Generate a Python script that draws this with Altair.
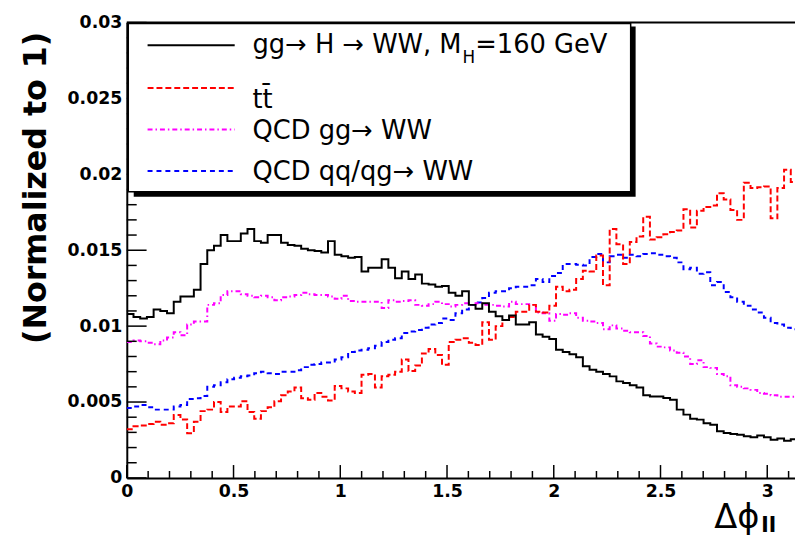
import altair as alt
import pandas as pd

# ---------------- data (normalized histograms, 100 bins over [0, pi]) ----------------
N_BINS = 100
BIN_WIDTH = 3.14159265 / N_BINS
X_MAX = 3.13
Y_MAX = 0.03
W, H = 675, 460

higgs = [0.0108, 0.0106, 0.0105, 0.0106, 0.0111, 0.0110, 0.01085, 0.0116, 0.01195, 0.01195,
         0.0124, 0.0141, 0.0150, 0.0153, 0.0160, 0.0156, 0.0156, 0.0161, 0.0164, 0.0156,
         0.0155, 0.0160, 0.0160, 0.0155, 0.01535, 0.0153, 0.0151, 0.0150, 0.01495, 0.01485,
         0.0156, 0.0147, 0.0146, 0.0145, 0.01455, 0.0136, 0.01385, 0.01385, 0.0144, 0.01385,
         0.01315, 0.0136, 0.0131, 0.0134, 0.0128, 0.01275, 0.0126, 0.01265, 0.0122, 0.0120,
         0.0123, 0.0114, 0.01115, 0.0115, 0.01095, 0.01065, 0.0104, 0.0107, 0.0101, 0.0101,
         0.01025, 0.00945, 0.0093, 0.00915, 0.00845, 0.0083, 0.00815, 0.00795, 0.00735, 0.00713,
         0.0070, 0.00684, 0.00669, 0.00636, 0.00625, 0.0061, 0.00596, 0.00544, 0.00537, 0.00537,
         0.00526, 0.00515, 0.0045, 0.00417, 0.0039, 0.00384, 0.0036, 0.0035, 0.00307, 0.00296,
         0.0029, 0.00285, 0.00274, 0.00268, 0.0028, 0.00268, 0.00252, 0.00259, 0.00245, 0.00255]

ttbar = [0.0032, 0.0034, 0.00345, 0.00355, 0.0037, 0.0035, 0.0036, 0.00415, 0.00385, 0.00295,
         0.0037, 0.0044, 0.0045, 0.0050, 0.00435, 0.0047, 0.0047, 0.00505, 0.00435, 0.0039,
         0.0044, 0.00465, 0.00505, 0.00545, 0.0057, 0.00595, 0.00525, 0.00515, 0.0056, 0.00535,
         0.0051, 0.00605, 0.0059, 0.0057, 0.0056, 0.0068, 0.00685, 0.00595, 0.0067, 0.0068,
         0.0070, 0.0078, 0.00705, 0.0074, 0.0082, 0.0085, 0.0081, 0.00745, 0.00895, 0.0091,
         0.0092, 0.0089, 0.00875, 0.01025, 0.0091, 0.0100, 0.0104, 0.0106, 0.01095, 0.01095,
         0.0114, 0.01095, 0.0109, 0.01135, 0.0126, 0.0123, 0.0124, 0.0131, 0.01365, 0.0136,
         0.01465, 0.0127, 0.0164, 0.0154, 0.0141, 0.01555, 0.0159, 0.0172, 0.0157, 0.01585,
         0.01605, 0.0162, 0.0163, 0.0177, 0.0165, 0.0176, 0.01785, 0.01795, 0.01875, 0.01835,
         0.01765, 0.0170, 0.01945, 0.0191, 0.01915, 0.0192, 0.0171, 0.0191, 0.0203, 0.0195]

qcd_gg = [0.00895, 0.00905, 0.0090, 0.0089, 0.0088, 0.00905, 0.00925, 0.0096, 0.0094, 0.0101,
          0.0103, 0.0103, 0.0114, 0.0115, 0.01205, 0.0123, 0.0123, 0.0121, 0.0120, 0.0119,
          0.0120, 0.0119, 0.0117, 0.0119, 0.01195, 0.01205, 0.0122, 0.0121, 0.01205, 0.01205,
          0.01195, 0.0118, 0.0120, 0.01165, 0.0116, 0.0116, 0.0116, 0.0116, 0.0112, 0.0117,
          0.0116, 0.01165, 0.0117, 0.0114, 0.01135, 0.01145, 0.0116, 0.01145, 0.0113, 0.0114,
          0.0115, 0.0114, 0.0115, 0.0114, 0.0114, 0.01135, 0.0113, 0.0116, 0.01145, 0.01145,
          0.0114, 0.0109, 0.01085, 0.01035, 0.0108, 0.01075, 0.01085, 0.01055, 0.01035, 0.0103,
          0.0102, 0.0098, 0.01005, 0.00985, 0.0097, 0.0096, 0.0096, 0.00935, 0.00885, 0.00865,
          0.0086, 0.0084, 0.00825, 0.0080, 0.0075, 0.00775, 0.0073, 0.00725, 0.00685, 0.0067,
          0.0061, 0.0060, 0.0059, 0.0058, 0.0056, 0.00555, 0.00545, 0.00535, 0.00535, 0.00535]

qcd_qq = [0.0046, 0.0047, 0.0048, 0.00465, 0.0045, 0.0045, 0.0045, 0.0047, 0.0048, 0.0052,
          0.00525, 0.0054, 0.0060, 0.0061, 0.0063, 0.0065, 0.0066, 0.0067, 0.00675, 0.0069,
          0.0070, 0.0069, 0.00685, 0.0070, 0.0070, 0.0071, 0.0073, 0.00745, 0.0075, 0.0076,
          0.0076, 0.0078, 0.00795, 0.0083, 0.0084, 0.00845, 0.00855, 0.0087, 0.00895, 0.0091,
          0.0092, 0.00955, 0.00965, 0.00975, 0.0099, 0.0101, 0.0102, 0.0105, 0.0104, 0.01085,
          0.0111, 0.0114, 0.01155, 0.01185, 0.0122, 0.0123, 0.0123, 0.0125, 0.0126, 0.0126,
          0.0127, 0.0131, 0.0129, 0.0133, 0.0135, 0.0141, 0.0141, 0.01405, 0.0140, 0.01455,
          0.01475, 0.0142, 0.0146, 0.0147, 0.0145, 0.0147, 0.0146, 0.01475, 0.0148, 0.0147,
          0.0146, 0.0145, 0.0142, 0.01375, 0.01385, 0.01345, 0.01355, 0.0127, 0.0129, 0.01225,
          0.0119, 0.0116, 0.01135, 0.0111, 0.0109, 0.01055, 0.0102, 0.0101, 0.0099, 0.0098]

x_major = [0.0, 0.5, 1.0, 1.5, 2.0, 2.5, 3.0]
x_minor = [0.1, 0.2, 0.3, 0.4, 0.6, 0.7, 0.8, 0.9, 1.1, 1.2, 1.3, 1.4, 1.6, 1.7, 1.8, 1.9,
           2.1, 2.2, 2.3, 2.4, 2.6, 2.7, 2.8, 2.9, 3.1]
y_major = [0.0, 0.005, 0.01, 0.015, 0.02, 0.025, 0.03]
y_minor = [0.001, 0.002, 0.003, 0.004, 0.006, 0.007, 0.008, 0.009, 0.011, 0.012, 0.013, 0.014,
           0.016, 0.017, 0.018, 0.019, 0.021, 0.022, 0.023, 0.024, 0.026, 0.027, 0.028, 0.029]

legend_labels = ["tt\u0304", "QCD gg\u2192 WW", "QCD qq/qg\u2192 WW"]

# ---------------- scales / axes ----------------
xs = alt.Scale(domain=[0, X_MAX], nice=False, zero=False)
ys = alt.Scale(domain=[0, Y_MAX], nice=False, zero=False)

x_axis = alt.Axis(values=x_major, format="~g", labelFont="DejaVu Sans", labelFontWeight="bold",
                  labelFontSize=17.5, labelColor="black", labelPadding=5, labelFlush=False,
                  labelOverlap=False, ticks=False, grid=False, domainColor="black",
                  domainWidth=2, title=None)
y_axis = alt.Axis(values=y_major, format="~g", labelFont="DejaVu Sans", labelFontWeight="bold",
                  labelFontSize=17.5, labelColor="black", labelPadding=5, labelFlush=False,
                  labelOverlap=False, ticks=False, grid=False, domainColor="black",
                  domainWidth=2, title=None)

X = lambda: alt.X("x:Q", scale=xs, axis=x_axis)
Y = lambda: alt.Y("y:Q", scale=ys, axis=y_axis)


def hist_df(vals):
    edges = [i * BIN_WIDTH for i in range(len(vals) + 1)]
    return pd.DataFrame({"x": edges, "y": vals + [vals[-1]]})


def hist_layer(vals, color, dash=None):
    kw = dict(interpolate="step-after", color=color, strokeWidth=2, clip=True)
    if dash:
        kw["strokeDash"] = dash
    return alt.Chart(hist_df(vals)).mark_line(**kw).encode(x=X(), y=Y())


one = pd.DataFrame({"k": [0]})

RED_DASH = [6, 3]
MAG_DASH = [5, 3, 1.5, 3]
BLUE_DASH = [5, 4]

layers = []

# histograms
layers.append(hist_layer(qcd_qq, "#0000ff", BLUE_DASH))
layers.append(hist_layer(qcd_gg, "#ff00ff", MAG_DASH))
layers.append(hist_layer(ttbar, "#ff0000", RED_DASH))
layers.append(hist_layer(higgs, "#000000"))

# inward tick marks
layers.append(alt.Chart(pd.DataFrame({"y": y_major})).mark_rule(color="black", strokeWidth=1.5)
              .encode(y=Y(), x=alt.value(0), x2=alt.value(20)))
layers.append(alt.Chart(pd.DataFrame({"y": y_minor})).mark_rule(color="black", strokeWidth=1.5)
              .encode(y=Y(), x=alt.value(0), x2=alt.value(10)))
layers.append(alt.Chart(pd.DataFrame({"x": x_major})).mark_rule(color="black", strokeWidth=1.5)
              .encode(x=X(), y=alt.value(H), y2=alt.value(H - 13)))
layers.append(alt.Chart(pd.DataFrame({"x": x_minor})).mark_rule(color="black", strokeWidth=1.5)
              .encode(x=X(), y=alt.value(H), y2=alt.value(H - 7)))

# top frame line
layers.append(alt.Chart(one).mark_rule(color="black", strokeWidth=2)
              .encode(x=alt.value(0), x2=alt.value(W), y=alt.value(0)))

# legend box with shadow
layers.append(alt.Chart(one).mark_rect(fill="black")
              .encode(x=alt.value(7), x2=alt.value(514), y=alt.value(4), y2=alt.value(176)))
layers.append(alt.Chart(one).mark_rect(fill="white", stroke="black", strokeWidth=1.5)
              .encode(x=alt.value(1.5), x2=alt.value(509), y=alt.value(1), y2=alt.value(171)))

# legend samples
sample_rows = [(23, "#000000", None), (66, "#ff0000", RED_DASH),
               (108, "#ff00ff", MAG_DASH), (150, "#0000ff", BLUE_DASH)]
for yy, col, dash in sample_rows:
    kw = dict(color=col, strokeWidth=2)
    if dash:
        kw["strokeDash"] = dash
    layers.append(alt.Chart(one).mark_rule(**kw)
                  .encode(x=alt.value(21), x2=alt.value(109), y=alt.value(yy)))

LEG_FONT = "DejaVu Sans"
LEG_SIZE = 26


def txt(text, x, y, size=LEG_SIZE, font=LEG_FONT, weight="normal", align="left", angle=0,
        baseline="alphabetic"):
    return alt.Chart(one).mark_text(text=text, font=font, fontSize=size, fontWeight=weight,
                                    align=align, baseline=baseline, angle=angle,
                                    color="black").encode(x=alt.value(x), y=alt.value(y))


layers.append(txt("gg\u2192 H \u2192 WW, M", 127, 31))
layers.append(txt("H", 339, 41, size=17))
layers.append(txt("=160 GeV", 352, 31))
layers.append(txt(legend_labels[0], 127, 86))
layers.append(txt(legend_labels[1], 127, 118))
layers.append(txt(legend_labels[2], 127, 159))

# axis titles
layers.append(txt("(Normalized to 1)", -92, 167, size=32, font="DejaVu Sans", weight="bold",
                  align="center", angle=270, baseline="middle"))
layers.append(txt("\u0394\u03d5", 639, 511, size=34, font="DejaVu Sans", align="right"))
layers.append(txt("ll", 641, 515, size=22, font="DejaVu Sans", weight="bold"))

chart = alt.layer(*layers).properties(
    width=W, height=H,
    autosize=alt.AutoSizeParams(type="none"),
    padding={"left": 120, "top": 12, "right": 0, "bottom": 59},
    background="white",
).configure_view(stroke=None)

chart.save("out.html", embed_options={"renderer": "svg", "actions": False})
